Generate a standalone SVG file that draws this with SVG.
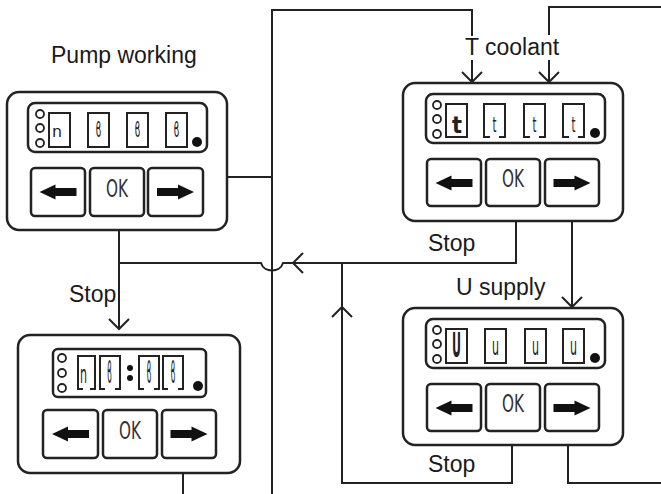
<svg xmlns="http://www.w3.org/2000/svg" xmlns:xlink="http://www.w3.org/1999/xlink" width="661" height="494" viewBox="0 0 661 494">
<style>
.pan{fill:#fff;stroke:#222;stroke-width:2.5}
.disp{fill:#fff;stroke:#222;stroke-width:2.5}
.btn{fill:#fff;stroke:#222;stroke-width:2.5}
.box{fill:none;stroke:#222;stroke-width:2}
.led{fill:#fff;stroke:#222;stroke-width:1.8}
.dot{fill:#111}
.arr{fill:#111}
.lbl{font-family:"Liberation Sans",Arial,sans-serif;font-size:23px;fill:#1a1a1a}
.ok{font-family:"DejaVu Sans","Liberation Sans",sans-serif;font-size:25px;fill:#333}
.dg{font-family:"DejaVu Sans","Liberation Sans",sans-serif;fill:#222}
.con{fill:none;stroke:#222;stroke-width:2}
</style>
<defs>
<path id="la" d="M-18.5,0 L-2.5,-7.5 L-2.5,-4 L18.5,-4 L18.5,4 L-2.5,4 L-2.5,7.5 Z"/>
<path id="ra" d="M18.5,0 L2.5,-7.5 L2.5,-4 L-18.5,-4 L-18.5,4 L2.5,4 L2.5,7.5 Z"/>
<marker id="ah" viewBox="-12 -12 24 24" markerWidth="24" markerHeight="24" refX="0" refY="0" orient="auto" markerUnits="userSpaceOnUse">
<path d="M-10,-10 L0,0 L-10,10" fill="none" stroke="#222" stroke-width="2"/>
</marker>
</defs>
<rect width="661" height="494" fill="#fff"/>

<g id="connectors">
<path class="con" d="M195,177 H272"/>
<path class="con" d="M272,494 V10 H472 V36"/>
<path class="con" d="M472,60 V82" marker-end="url(#ah)"/>
<path class="con" d="M661,7 H549 V35"/>
<path class="con" d="M549,60 V82" marker-end="url(#ah)"/>
<path class="con" d="M119,207 V329" marker-end="url(#ah)"/>
<path class="con" d="M516,198 V263 H283 C280,273 264,273 261,263 H119"/>
<path class="con" d="M303,253 L293,263 L303,273"/>
<path class="con" d="M342,263 V483 H512 V425"/>
<path class="con" d="M332,317 L342,307 L352,317"/>
<path class="con" d="M572,192 V307" marker-end="url(#ah)"/>
<path class="con" d="M568,425 V483 H661"/>
<path class="con" d="M183,443 V494"/>
</g>

<g id="labels">
<text class="lbl" x="51" y="63">Pump working</text>
<text class="lbl" x="465" y="55">T coolant</text>
<text class="lbl" x="69" y="302">Stop</text>
<text class="lbl" x="428" y="251">Stop</text>
<text class="lbl" x="456" y="295">U supply</text>
<text class="lbl" x="428" y="472">Stop</text>
</g>

<g id="pump-working" transform="translate(7,92)">
<rect class="pan" x="0" y="0" width="220" height="138" rx="12"/>
<rect class="disp" x="21" y="11" width="179" height="49" rx="7"/>
<circle class="led" cx="33" cy="22" r="4"/>
<circle class="led" cx="33" cy="36" r="4"/>
<circle class="led" cx="33" cy="51" r="4"/>
<rect class="box" x="42" y="21" width="21" height="34"/>
<rect class="box" x="81" y="21" width="21" height="34"/>
<rect class="box" x="120" y="21" width="21" height="34"/>
<rect class="box" x="159" y="21" width="21" height="34"/>
<text class="dg" x="45" y="45" font-size="15" textLength="10" lengthAdjust="spacingAndGlyphs">n</text>
<text class="dg" x="88.5" y="45" font-size="21" textLength="6" lengthAdjust="spacingAndGlyphs">ϐ</text>
<text class="dg" x="127.5" y="45" font-size="21" textLength="6" lengthAdjust="spacingAndGlyphs">ϐ</text>
<text class="dg" x="166.5" y="45" font-size="21" textLength="6" lengthAdjust="spacingAndGlyphs">ϐ</text>
<circle class="dot" cx="190" cy="50" r="5"/>
<rect class="btn" x="24" y="76" width="54" height="48" rx="4"/>
<rect class="btn" x="83" y="76" width="54" height="48" rx="4"/>
<rect class="btn" x="141" y="76" width="55" height="48" rx="4"/>
<use xlink:href="#la" class="arr" x="51" y="100"/>
<use xlink:href="#ra" class="arr" x="168.5" y="100"/>
<text class="ok" x="99" y="104.5" textLength="22" lengthAdjust="spacingAndGlyphs">OK</text>
</g>

<g id="t-coolant" transform="translate(403,83)">
<rect class="pan" x="0" y="0" width="220" height="138" rx="12"/>
<rect class="disp" x="23" y="11" width="179" height="49" rx="7"/>
<circle class="led" cx="34" cy="22" r="4"/>
<circle class="led" cx="34" cy="36" r="4"/>
<circle class="led" cx="34" cy="51" r="4"/>
<rect class="box" x="43" y="21" width="21" height="33"/>
<path class="box" d="M87,54 H81 V21 H102 V54 H96"/>
<path class="box" d="M127,54 H121 V21 H142 V54 H136"/>
<path class="box" d="M166,54 H160 V21 H181 V54 H175"/>
<text class="dg" x="49" y="50" font-size="23" font-weight="bold" textLength="10" lengthAdjust="spacingAndGlyphs">t</text>
<text class="dg" x="89.5" y="49" font-size="22" textLength="4" lengthAdjust="spacingAndGlyphs">t</text>
<text class="dg" x="129.5" y="49" font-size="22" textLength="4" lengthAdjust="spacingAndGlyphs">t</text>
<text class="dg" x="168.5" y="49" font-size="22" textLength="4" lengthAdjust="spacingAndGlyphs">t</text>
<circle class="dot" cx="192" cy="50" r="5"/>
<rect class="btn" x="24" y="76" width="54" height="47" rx="4"/>
<rect class="btn" x="83" y="76" width="54" height="47" rx="4"/>
<rect class="btn" x="142" y="76" width="54" height="47" rx="4"/>
<use xlink:href="#la" class="arr" x="51" y="100"/>
<use xlink:href="#ra" class="arr" x="169" y="100"/>
<text class="ok" x="99" y="104" textLength="22" lengthAdjust="spacingAndGlyphs">OK</text>
</g>

<g id="u-supply" transform="translate(403,308)">
<rect class="pan" x="0" y="0" width="220" height="137" rx="12"/>
<rect class="disp" x="23" y="11" width="179" height="49" rx="7"/>
<circle class="led" cx="34" cy="22" r="4"/>
<circle class="led" cx="34" cy="36" r="4"/>
<circle class="led" cx="34" cy="51" r="4"/>
<rect class="box" x="43" y="21" width="21" height="34"/>
<rect class="box" x="82" y="21" width="21" height="34"/>
<rect class="box" x="122" y="21" width="21" height="34"/>
<rect class="box" x="160" y="21" width="21" height="34"/>
<text class="dg" x="49" y="49" font-size="33" font-weight="bold" textLength="9" lengthAdjust="spacingAndGlyphs">U</text>
<text class="dg" x="89" y="47" font-size="25" textLength="7" lengthAdjust="spacingAndGlyphs">u</text>
<text class="dg" x="129" y="47" font-size="25" textLength="7" lengthAdjust="spacingAndGlyphs">u</text>
<text class="dg" x="167" y="47" font-size="25" textLength="7" lengthAdjust="spacingAndGlyphs">u</text>
<circle class="dot" cx="192" cy="50" r="5"/>
<rect class="btn" x="24" y="76" width="54" height="47" rx="4"/>
<rect class="btn" x="83" y="76" width="54" height="47" rx="4"/>
<rect class="btn" x="142" y="76" width="54" height="47" rx="4"/>
<use xlink:href="#la" class="arr" x="51" y="100"/>
<use xlink:href="#ra" class="arr" x="169" y="100"/>
<text class="ok" x="99" y="104" textLength="22" lengthAdjust="spacingAndGlyphs">OK</text>
</g>

<g id="stop-display" transform="translate(18,335)">
<rect class="pan" x="0" y="0" width="222" height="138" rx="12"/>
<rect class="disp" x="35" y="14" width="153" height="48" rx="5"/>
<circle class="led" cx="44" cy="23" r="4"/>
<circle class="led" cx="44" cy="38" r="4"/>
<circle class="led" cx="44" cy="53" r="4"/>
<path class="box" d="M65,54 H60 V21 H77 V54 H72"/>
<path class="box" d="M87,54 H82 V21 H102 V54 H97"/>
<path class="box" d="M126,54 H121 V21 H141 V54 H136"/>
<path class="box" d="M150,54 H145 V21 H165 V54 H160"/>
<circle class="dot" cx="112" cy="33" r="3"/>
<circle class="dot" cx="112" cy="43" r="3"/>
<text class="dg" x="62" y="48" font-size="24" textLength="7" lengthAdjust="spacingAndGlyphs">n</text>
<text class="dg" x="89" y="48" font-size="30" textLength="5" lengthAdjust="spacingAndGlyphs">ϐ</text>
<text class="dg" x="128.5" y="48" font-size="30" textLength="5" lengthAdjust="spacingAndGlyphs">ϐ</text>
<text class="dg" x="152.5" y="48" font-size="30" textLength="5" lengthAdjust="spacingAndGlyphs">ϐ</text>
<circle class="dot" cx="180" cy="51" r="5"/>
<rect class="btn" x="25" y="75" width="55" height="48" rx="4"/>
<rect class="btn" x="85" y="75" width="54" height="48" rx="4"/>
<rect class="btn" x="144" y="75" width="54" height="48" rx="4"/>
<use xlink:href="#la" class="arr" x="52.5" y="99"/>
<use xlink:href="#ra" class="arr" x="171" y="99"/>
<text class="ok" x="101" y="104" textLength="22" lengthAdjust="spacingAndGlyphs">OK</text>
</g>
</svg>
